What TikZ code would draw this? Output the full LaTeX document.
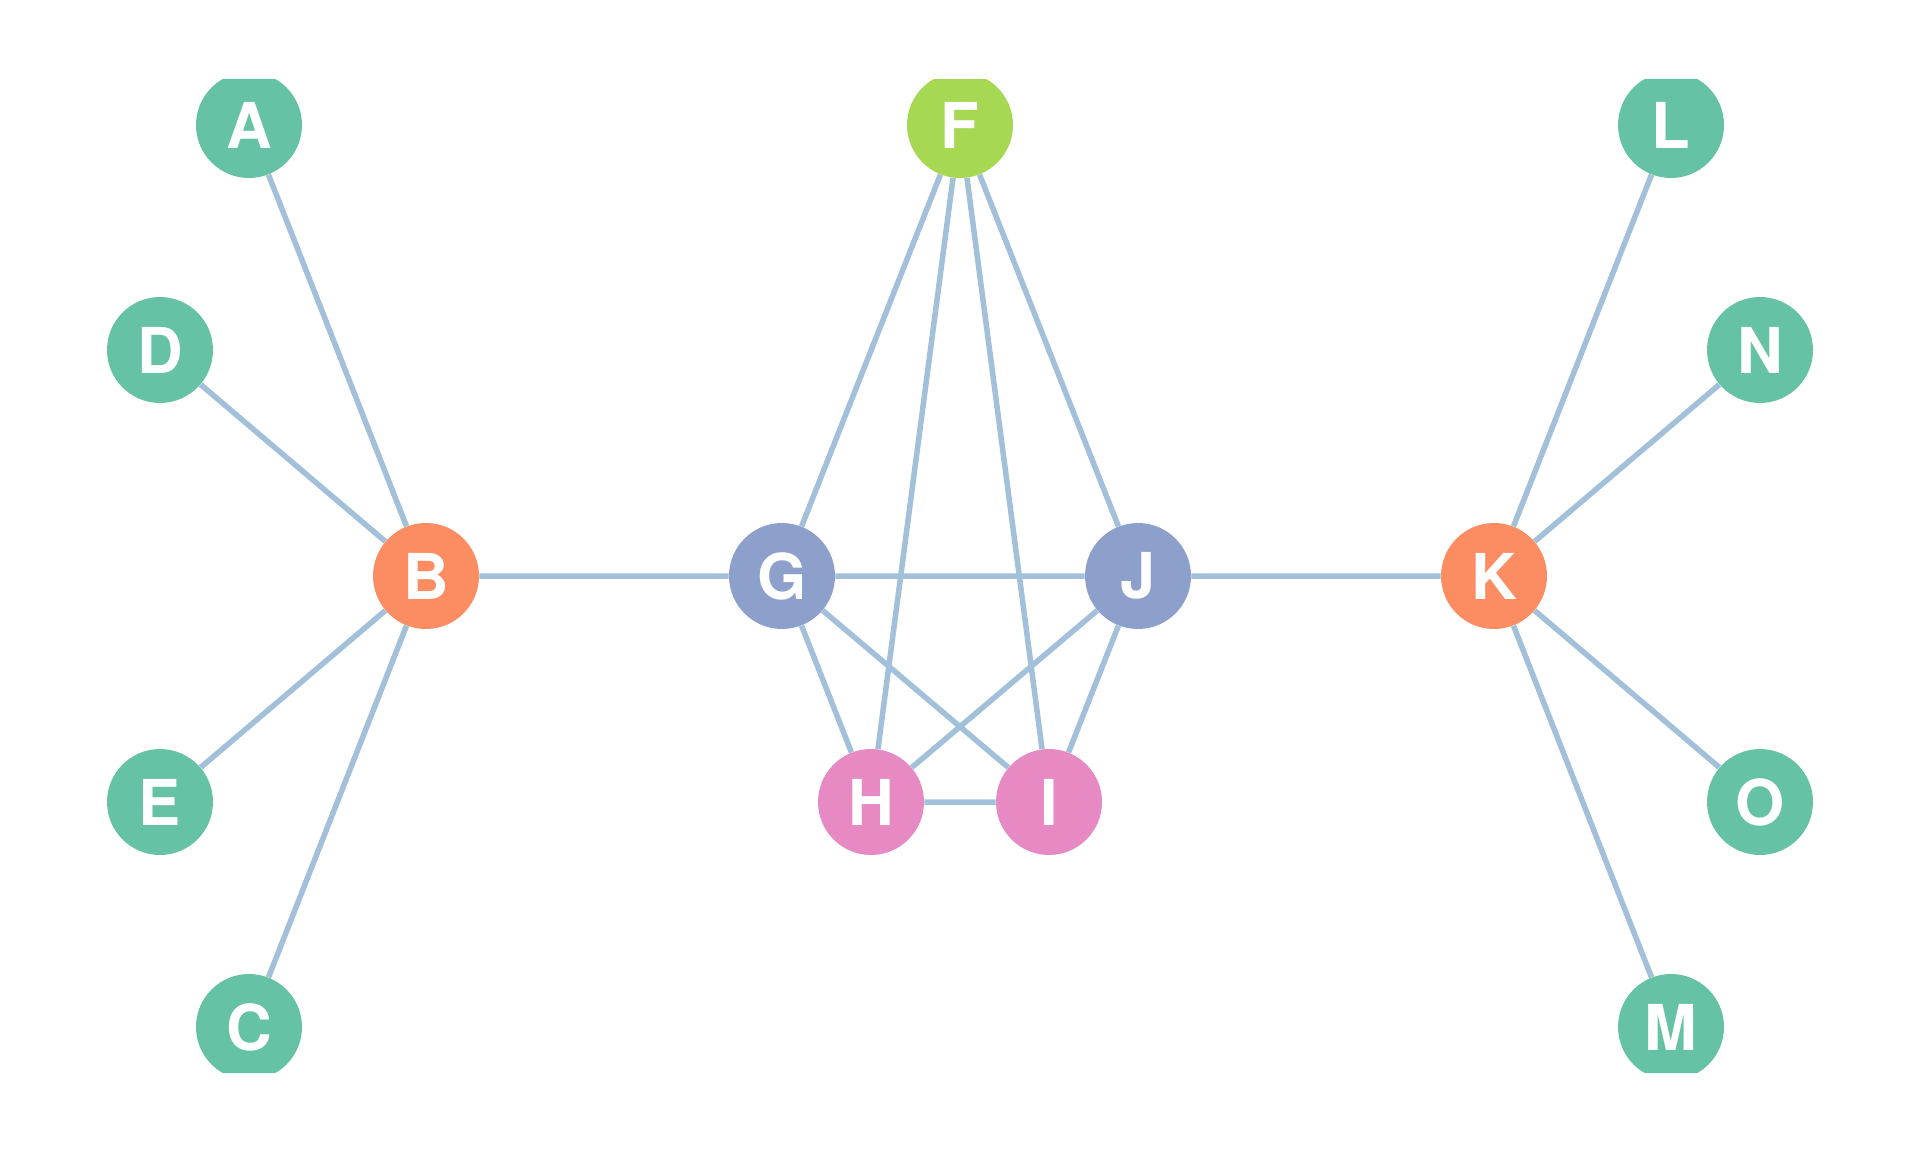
\documentclass[tikz,border=0pt]{standalone}
\usepackage{fontspec}
\setmainfont{TeX Gyre Heros}
\usepackage{xcolor}
\usepackage{tikz}
\usetikzlibrary{positioning}

\definecolor{outer}{HTML}{66C2A5}
\definecolor{hub}{HTML}{FC8D62}
\definecolor{inner}{HTML}{8DA0CB}
\definecolor{lower}{HTML}{E78AC3}
\definecolor{apex}{HTML}{A6D854}
\definecolor{link}{RGB}{70,130,180}

\begin{document}
\begin{tikzpicture}[x=0.02cm, y=-0.02cm]
		\tikzstyle{vert} = [circle, draw=none, minimum size=2.12cm, inner sep=0pt, text=white, font=\fontsize{36}{36}\selectfont\bfseries]
		\tikzstyle{leaf} = [vert, fill=outer]
		\tikzstyle{edgeline} = [draw=link, draw opacity=0.5, line width=0.11cm]

		\useasboundingbox (0, 0) rectangle (1920, 1152);
		\fill[white] (0, 0) rectangle (1920, 1152);

		\begin{scope}
		\clip (0, 80) rectangle (1920, 1072);

		\node[leaf] 			at (249, 125)	(A) 	{A};
		\node[leaf] 			at (160, 350)	(D) 	{D};
		\node[vert, fill=hub] 	at (426, 576)	(B) 	{B};
		\node[leaf] 			at (160, 802)	(E) 	{E};
		\node[leaf] 			at (249, 1027)	(C) 	{C};
		\node[vert, fill=apex] 	at (960, 125)	(F) 	{F};
		\node[vert, fill=inner] at (782, 576)	(G) 	{G};
		\node[vert, fill=inner] at (1138, 576)	(J) 	{J};
		\node[vert, fill=lower] at (871, 802)	(H) 	{H};
		\node[vert, fill=lower] at (1049, 802)	(I) 	{I};
		\node[vert, fill=hub] 	at (1494, 576)	(K) 	{K};
		\node[leaf] 			at (1671, 125)	(L) 	{L};
		\node[leaf] 			at (1760, 350)	(N) 	{N};
		\node[leaf] 			at (1760, 802)	(O) 	{O};
		\node[leaf] 			at (1671, 1027)	(M) 	{M};

		\path[edgeline]
		(B) -- (A)	(B) -- (D)	(B) -- (E)	(B) -- (C)	(B) -- (G)
		(G) -- (J)	(G) -- (F)	(G) -- (H)	(G) -- (I)
		(J) -- (F)	(J) -- (H)	(J) -- (I)	(J) -- (K)
		(F) -- (H)	(F) -- (I)	(H) -- (I)
		(K) -- (L)	(K) -- (N)	(K) -- (O)	(K) -- (M);
		\end{scope}
	\end{tikzpicture}
\end{document}
